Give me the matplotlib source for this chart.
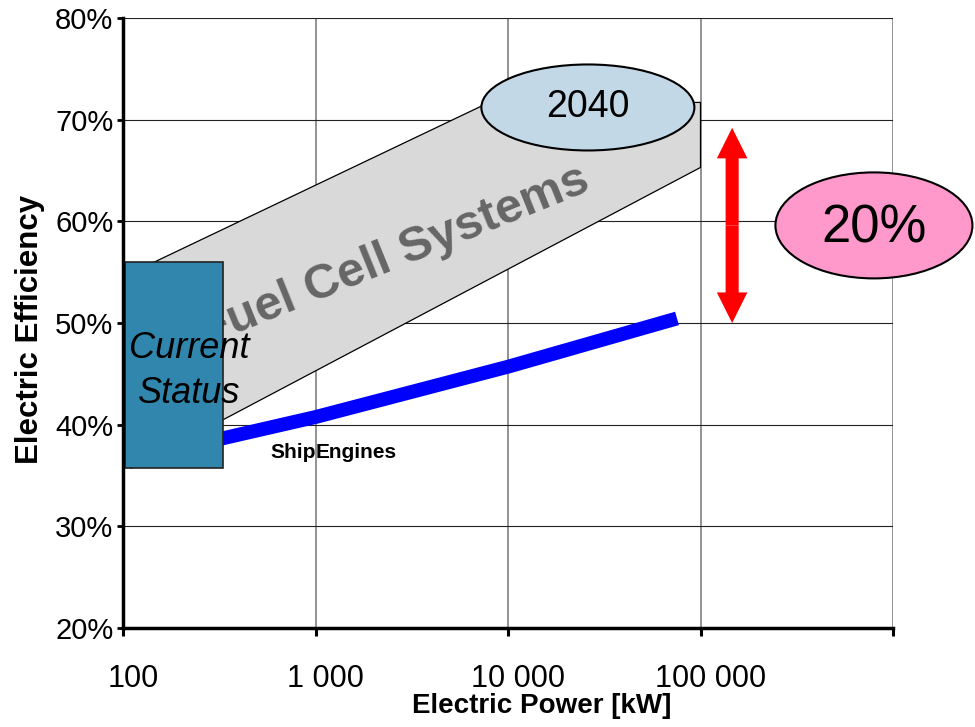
import matplotlib
matplotlib.use("Agg")
import matplotlib.pyplot as plt
import matplotlib.transforms as mtransforms
from matplotlib import font_manager
from matplotlib.patches import Polygon, Rectangle, Ellipse, FancyArrowPatch
from matplotlib.ticker import FixedLocator, FixedFormatter, NullLocator

plt.rcParams['font.family'] = ['Liberation Sans', 'DejaVu Sans']
installed = {f.name for f in font_manager.fontManager.ttflist}
narrow = 'Liberation Sans Narrow' if 'Liberation Sans Narrow' in installed else 'Liberation Sans'

# axis ticks
power_ticks = [100, 1000, 10000, 100000, 1000000]
power_labels = ['100', '1 000', '10 000', '100 000', '']
eff_ticks = [20, 30, 40, 50, 60, 70, 80]
eff_labels = ['20%', '30%', '40%', '50%', '60%', '70%', '80%']

# ship engines (kW, %)
ship_power = [320, 1000, 10000, 75500]
ship_eff = [38.6, 40.75, 45.7, 50.45]

# fuel cell band outline (kW, %)
fc_power = [110, 7400, 100000, 100000, 340, 110]
fc_eff = [54.9, 71.4, 71.7, 65.3, 40.6, 35.7]

# current status box
status_power = [102, 330]
status_eff = [35.7, 56.0]

# 2040 bubble, 20% bubble, gain arrow
target_power, target_eff = 26000, 71.2
gain_power, gain_eff = 796000, 59.6
arrow_power = 146000
arrow_eff = [50.0, 69.2]

fig = plt.figure(figsize=(9.75, 7.27), dpi=100)
ax = fig.add_axes([123/975, 1-628/727, 770/975, 610/727])
ax.set_xscale('log')
ax.set_xlim(100, 1000000)
ax.set_ylim(20, 80)


def bubble(x, y, w, h, color):
    # ellipse sized in points, centred on a data point
    tr = mtransforms.Affine2D().scale(fig.dpi/72) + mtransforms.ScaledTranslation(x, y, ax.transData)
    e = Ellipse((0, 0), w, h, transform=tr, facecolor=color, edgecolor='black', lw=1.5, zorder=4, clip_on=False)
    ax.add_artist(e)


# grid
ax.set_axisbelow(True)
ax.grid(axis='y', color='#222222', lw=0.8)
ax.grid(axis='x', color='#808080', lw=1.2)

# fuel cell band
band = Polygon(list(zip(fc_power, fc_eff)), closed=True, facecolor='#D9D9D9', edgecolor='black', lw=0.9, zorder=1)
ax.add_patch(band)
ax.text(2560, 56.6, 'Fuel Cell Systems', rotation=22, rotation_mode='anchor', ha='center', va='center',
        fontsize=35, fontweight='bold', color='#666666', zorder=1.5)

# ship engines
ax.plot(ship_power, ship_eff, color='#0000FF', lw=10, solid_capstyle='butt', zorder=2)
ax.text(580, 37.3, 'Ship', fontsize=15, fontweight='bold', va='center', ha='left', zorder=0.4)
ax.text(1000, 37.3, 'Engines', fontsize=15, fontweight='bold', va='center', ha='left', zorder=0.4)

# current status box
box = Rectangle((status_power[0], status_eff[0]), status_power[1]-status_power[0], status_eff[1]-status_eff[0],
                facecolor='#3186AD', edgecolor='#222222', lw=1.2, zorder=3)
ax.add_patch(box)
ax.text(220, 45.3, 'Current\nStatus', fontsize=26, fontstyle='italic', ha='center', va='center',
        linespacing=1.38, zorder=5)

# 2040 bubble
bubble(target_power, target_eff, 213*0.72, 86*0.72, '#C3D8E6')
ax.text(target_power, target_eff, '2040', family=narrow, fontsize=27, ha='center', va='center', zorder=6)

# 20% gain
mid = sum(arrow_eff) / 2
for end in arrow_eff:
    ax.add_patch(FancyArrowPatch((arrow_power, mid), (arrow_power, end),
                                 arrowstyle='simple,head_length=22,head_width=22,tail_width=9.4',
                                 mutation_scale=1, shrinkA=0, shrinkB=0, color='red', lw=0, zorder=3))
bubble(gain_power, gain_eff, 197*0.72, 106*0.72, '#FF99CC')
ax.text(gain_power, gain_eff - 0.3, '20%', family=narrow, fontsize=38, ha='center', va='center',
        zorder=6, clip_on=False)

# axes styling
for s in ['top', 'right']:
    ax.spines[s].set_visible(False)
for s in ['left', 'bottom']:
    ax.spines[s].set_linewidth(2.5)
    ax.spines[s].set_zorder(6)

ax.xaxis.set_major_locator(FixedLocator(power_ticks))
ax.xaxis.set_major_formatter(FixedFormatter(power_labels))
ax.xaxis.set_minor_locator(NullLocator())
ax.yaxis.set_major_locator(FixedLocator(eff_ticks))
ax.yaxis.set_major_formatter(FixedFormatter(eff_labels))
ax.tick_params(axis='x', direction='out', length=6, width=2.2, pad=20, labelsize=22)
ax.tick_params(axis='y', direction='out', length=4, width=2, pad=3, labelsize=21)
for lab in ax.get_xticklabels():
    lab.set_transform(lab.get_transform() + mtransforms.ScaledTranslation(0.1, 0, fig.dpi_scale_trans))

ax.set_xlabel('Electric Power [kW]', fontsize=20, fontweight='bold')
ax.xaxis.label.set_va('center')
ax.xaxis.set_label_coords(0.544, -0.128)
ax.set_ylabel('Electric Efficiency', fontsize=22.5, fontweight='bold')
ax.yaxis.label.set_va('center')
ax.yaxis.set_label_coords(-0.121, 0.489)

fig.savefig('out.png', dpi=100)
